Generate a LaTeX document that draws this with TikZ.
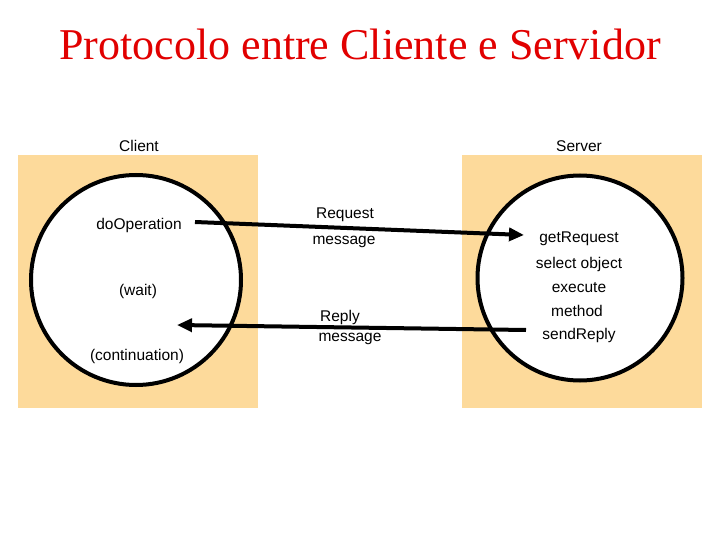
\documentclass[tikz,border=0pt]{standalone}
\usepackage{fontspec}
\setmainfont{Liberation Serif}
\setsansfont{Liberation Sans}
\usetikzlibrary{arrows.meta,positioning}
\definecolor{boxfill}{RGB}{253,218,155}
\definecolor{titlered}{RGB}{225,0,0}

\begin{document}
\begin{tikzpicture}[x=1pt, y=-1pt,
    lbl/.style={font=\sffamily\fontsize{15.5}{18}\selectfont, inner sep=0pt},
    proc/.style={circle, draw, line width=4pt, fill=white},
    msg/.style={line width=4pt, -{Triangle[length=15pt, width=13pt]}}]
    \useasboundingbox (0,0) rectangle (720,540);
    \def\r{210}

    \node(title) [text=titlered, font=\fontsize{44}{50}\selectfont, anchor=base, inner sep=0pt] at (360,60) {Protocolo entre Cliente e Servidor};

    % the two sides
    \fill[boxfill] (18,155) rectangle (258,408);
    \fill[boxfill] (462,155) rectangle (702,408);
    \node(client) [lbl] at (139,146) {Client};
    \node(server) [lbl] at (579,146) {Server};
    \node(cc) [proc, minimum size = \r] at (136,280) {};
    \node(sc) [proc, minimum size = \r-5] at (580,278) {};

    \node(dop) [lbl] at (139,225) {doOperation};
    \node(wait) [lbl] at (138,291) {(wait)};
    \node(cont) [lbl] at (137,356) {(continuation)};

    \node(getreq) [lbl] at (579,239) {getRequest};
    \node(sel) [lbl] at (579,264) {select object};
    \node(exe) [lbl] at (579,288) {execute};
    \node(meth) [lbl] at (577,311) {method};
    \node(send) [lbl] at (579,335) {sendReply};

    \node(req1) [lbl] at (345,215) {Request};
    \node(req2) [lbl] at (344,242) {message};
    \node(rep1) [lbl] at (340,317) {Reply};
    \node(rep2) [lbl] at (350,339) {message};

    \coordinate (reqa) at (195,222);
    \coordinate (reqb) at (524,235);
    \coordinate (repa) at (526,330);
    \coordinate (repb) at (177,325);

    \draw[msg] (reqa) -- (reqb);
    \draw[msg] (repa) -- (repb);

\end{tikzpicture}
\end{document}
